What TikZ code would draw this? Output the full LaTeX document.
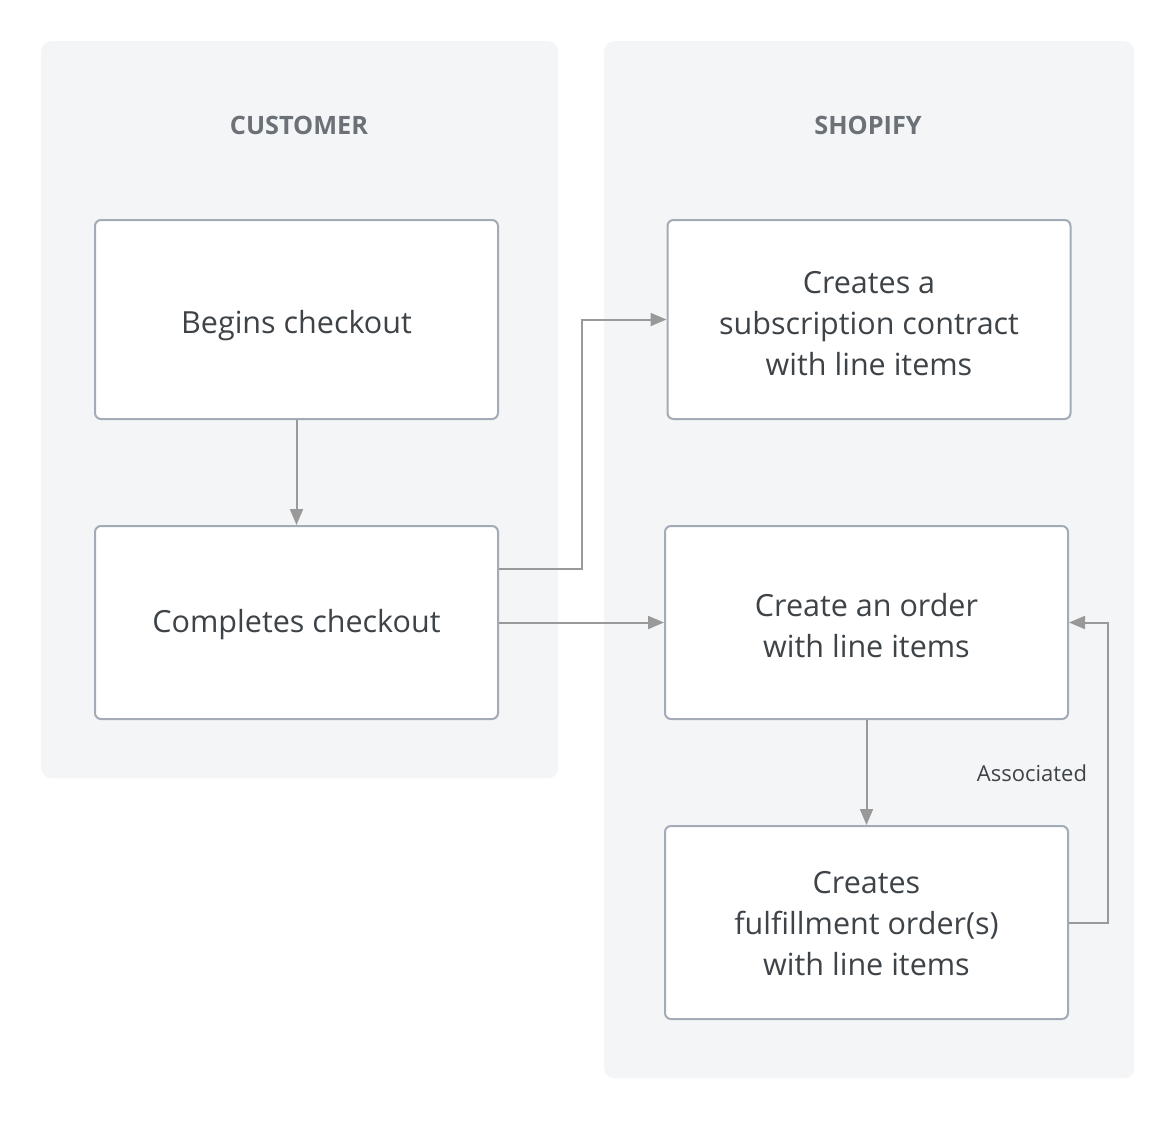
\documentclass[tikz,border=0pt]{standalone}
\usepackage{fontspec}
\setmainfont{Open Sans}
\usetikzlibrary{arrows.meta}
\definecolor{panelbg}{HTML}{F4F5F7}
\definecolor{boxline}{HTML}{A3ACB6}
\definecolor{arrowc}{HTML}{999999}
\definecolor{textc}{HTML}{3E4348}
\definecolor{titlec}{HTML}{6B7177}
\tikzset{
  panel/.style={fill=panelbg, draw=none, rounded corners=10pt},
  stepbox/.style={draw=boxline, line width=2pt, fill=white, rounded corners=6pt,
    minimum width=403pt, minimum height=196pt, inner sep=0pt},
  steptext/.style={align=center, inner sep=0pt, text=textc, font=\fontsize{30.5}{41}\selectfont},
  title/.style={text=titlec, font=\fontsize{25.3}{28}\selectfont\bfseries},
  conn/.style={draw=arrowc, line width=2pt, -{Triangle[length=16pt,width=13pt]}},
  lbl/.style={text=textc, font=\fontsize{22}{26}\selectfont},
}
\begin{document}
\begin{tikzpicture}[x=1pt,y=-1pt]
\useasboundingbox (0,0) rectangle (1175,1120);
\fill[white] (0,0) rectangle (1175,1120);
\node[panel, minimum width=517pt, minimum height=737pt, anchor=north west] (pc) at (41,41) {};
\node[panel, minimum width=530pt, minimum height=1037pt, anchor=north west] (ps) at (604,41) {};
\node[title] (tc) at (299,125) {CUSTOMER};
\node[title] (ts) at (868,125) {SHOPIFY};
\node[stepbox, minimum height=199pt] (begin) at (296.5,319.5) {};
\node[stepbox, minimum height=193pt] (complete) at (296.5,622.5) {};
\node[stepbox, minimum height=199pt] (sub) at (869,319.5) {};
\node[stepbox, minimum height=193pt] (order) at (866.5,622.5) {};
\node[stepbox, minimum height=193pt] (fulfil) at (866.5,922.5) {};
\node[steptext, yshift=-6pt] (begin-t) at (begin) {Begins checkout};
\node[steptext, yshift=-2pt] (complete-t) at (complete) {Completes checkout};
\node[steptext, yshift=-4pt] (sub-t) at (sub) {Creates a\\subscription contract\\with line items};
\node[steptext, yshift=-3pt] (order-t) at (order) {Create an order\\with line items};
\node[steptext, yshift=-1pt] (fulfil-t) at (fulfil) {Creates\\fulfillment order(s)\\with line items};
\coordinate (c1) at (582,569);
\coordinate (c2) at (1108,922.5);
\draw[conn] (begin.south) -- (complete.north);
\draw[conn] (complete.east |- c1) -- (c1) |- (sub.west);
\draw[conn] (complete.east) -- (order.west);
\draw[conn] (order.south) -- (fulfil.north);
\draw[conn] (fulfil.east) -- (c2) |- (order.east);
\node[lbl] (assoc) at (1032,773) {Associated};
\end{tikzpicture}
\end{document}
